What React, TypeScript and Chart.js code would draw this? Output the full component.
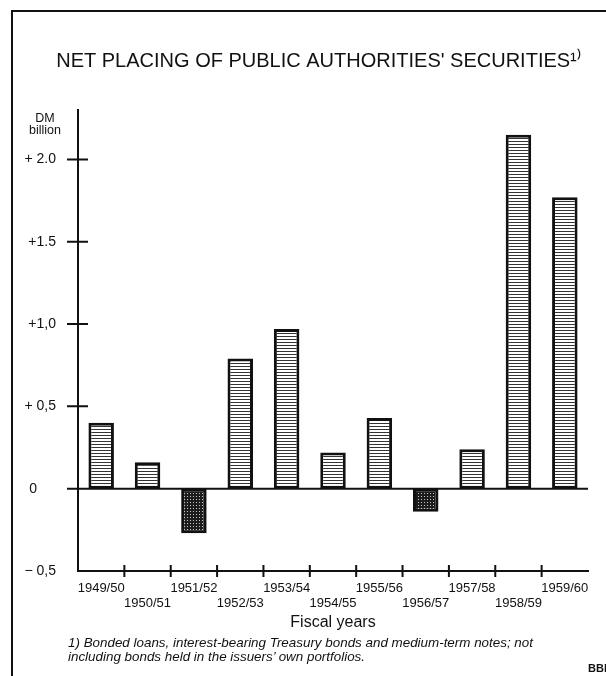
import { useEffect, useRef } from 'react';
import { Chart, registerables } from 'chart.js';

Chart.register(...registerables);

const fiscalYears = [
  '1949/50', '1950/51', '1951/52', '1952/53', '1953/54', '1954/55',
  '1955/56', '1956/57', '1957/58', '1958/59', '1959/60',
];
const netPlacing = [0.40, 0.16, -0.27, 0.79, 0.97, 0.22, 0.43, -0.14, 0.24, 2.15, 1.77];
const yTickValues = [-0.5, 0, 0.5, 1, 1.5, 2];
const yTickLabels = ['\u2212 0,5', '0', '+ 0,5', '+1,0', '+1.5', '+ 2.0'];
const titleText = "NET PLACING OF PUBLIC AUTHORITIES' SECURITIES\u00B9\u207E";
const xTitleText = 'Fiscal years';
const unitLines = ['DM', 'billion'];
const footnoteLines = [
  '1) Bonded loans, interest-bearing Treasury bonds and medium-term notes; not',
  'including bonds held in the issuers\u2019 own portfolios.',
];
const sourceText = 'BBk';

const FONT = "'Liberation Sans', Arial, sans-serif";
const INK = '#111';

function makeStripePattern(): CanvasPattern | string {
  const c = document.createElement('canvas');
  c.width = 4;
  c.height = 3;
  const g = c.getContext('2d');
  if (!g) return '#ccc';
  g.fillStyle = '#fff';
  g.fillRect(0, 0, 4, 3);
  g.fillStyle = '#333';
  g.fillRect(0, 0, 4, 1);
  return g.createPattern(c, 'repeat') || '#ccc';
}

function makeDotPattern(): CanvasPattern | string {
  const c = document.createElement('canvas');
  c.width = 3;
  c.height = 3;
  const g = c.getContext('2d');
  if (!g) return '#333';
  g.fillStyle = '#1c1c1c';
  g.fillRect(0, 0, 3, 3);
  g.fillStyle = '#c8c8c8';
  g.fillRect(1, 1, 1, 1);
  return g.createPattern(c, 'repeat') || '#333';
}

const axisMarks = {
  id: 'axisMarks',
  afterDatasetsDraw(chart: any) {
    const { ctx, chartArea, scales } = chart;
    const x = scales.x;
    const y = scales.y;
    ctx.save();
    ctx.strokeStyle = INK;
    ctx.lineWidth = 2;
    ctx.beginPath();
    const y0 = y.getPixelForValue(0);
    ctx.moveTo(chartArea.left - 11, y0);
    ctx.lineTo(chartArea.right, y0);
    for (const v of yTickValues) {
      if (v <= 0) continue;
      const py = y.getPixelForValue(v);
      ctx.moveTo(chartArea.left - 11, py);
      ctx.lineTo(chartArea.left + 10, py);
    }
    for (let i = 1; i < fiscalYears.length; i++) {
      const px = (x.getPixelForValue(i - 1) + x.getPixelForValue(i)) / 2;
      ctx.moveTo(px, chartArea.bottom - 6);
      ctx.lineTo(px, chartArea.bottom + 6);
    }
    ctx.stroke();
    ctx.restore();
  },
};

export default function App() {
  const ref = useRef<HTMLCanvasElement | null>(null);

  useEffect(() => {
    if (!ref.current) return;
    const stripe = makeStripePattern();
    const dots = makeDotPattern();
    const chart = new Chart(ref.current, {
      type: 'bar',
      data: {
        labels: fiscalYears.map((l, i) => (i % 2 === 0 ? [l, ''] : ['', l])) as any,
        datasets: [
          {
            data: netPlacing,
            backgroundColor: netPlacing.map((v) => (v < 0 ? dots : stripe)) as any,
            borderColor: INK,
            borderWidth: 3,
            borderSkipped: false,
            categoryPercentage: 1,
            barPercentage: 0.55,
          },
        ],
      },
      options: {
        responsive: false,
        animation: false,
        layout: { padding: { left: 0, right: 18, top: 0, bottom: 0 } },
        plugins: {
          legend: { display: false },
          tooltip: { enabled: false },
          title: {
            display: true,
            text: '\u2003\u2003\u2002' + titleText,
            color: INK,
            font: { family: FONT, size: 20, weight: 'normal' },
            padding: { top: 49, bottom: 37 },
          },
        },
        scales: {
          x: {
            type: 'category',
            offset: true,
            grid: { display: false, drawTicks: false },
            border: { display: true, color: INK, width: 2 },
            ticks: {
              autoSkip: false,
              maxRotation: 0,
              minRotation: 0,
              padding: 10,
              color: INK,
              font: { family: FONT, size: 13, lineHeight: 1.15 },
            },
            title: {
              display: true,
              text: xTitleText,
              color: INK,
              font: { family: FONT, size: 16 },
              padding: { top: 0, bottom: 44 },
            },
            afterFit: (s: any) => {
              s.height = 105;
            },
          },
          y: {
            min: -0.5,
            max: 2.3,
            grid: { display: false, drawTicks: false },
            border: { display: true, color: INK, width: 2 },
            afterBuildTicks: (s: any) => {
              s.ticks = yTickValues.map((v) => ({ value: v }));
            },
            ticks: {
              padding: 22,
              color: INK,
              font: { family: FONT, size: 14 },
              callback: (v: any) => {
                const idx = yTickValues.indexOf(Number(v));
                const lab = idx >= 0 ? yTickLabels[idx] : '';
                return Number(v) === 0 ? lab + '\u2007\u2007\u2005' : lab;
              },
            },
            afterFit: (s: any) => {
              s.width = 78;
            },
          },
        },
      },
      plugins: [axisMarks],
    });
    return () => chart.destroy();
  }, []);

  return (
    <div style={{ position: 'fixed', left: 0, top: 0, width: 606, height: 676, background: '#fff', overflow: 'hidden' }}>
      <div
        style={{
          position: 'absolute', left: 11, top: 10, width: 606, height: 676,
          borderTop: `2px solid ${INK}`, borderLeft: `2px solid ${INK}`,
        }}
      />
      <canvas ref={ref} width={606} height={676} style={{ position: 'absolute', left: 0, top: 0 }} />
      <div
        style={{
          position: 'absolute', left: 20, top: 112, width: 50, textAlign: 'center',
          font: `12.5px ${FONT}`, lineHeight: '12px', color: INK,
        }}
      >
        {unitLines.map((t) => (
          <div key={t}>{t}</div>
        ))}
      </div>
      <div
        style={{
          position: 'absolute', left: 68, top: 636, whiteSpace: 'nowrap',
          font: `italic 13.4px ${FONT}`, lineHeight: '14px', color: INK,
        }}
      >
        {footnoteLines.map((t) => (
          <div key={t}>{t}</div>
        ))}
      </div>
      <div
        style={{
          position: 'absolute', left: 588, top: 662, whiteSpace: 'nowrap',
          font: `bold 11px ${FONT}`, color: INK,
        }}
      >
        {sourceText}
      </div>
    </div>
  );
}
